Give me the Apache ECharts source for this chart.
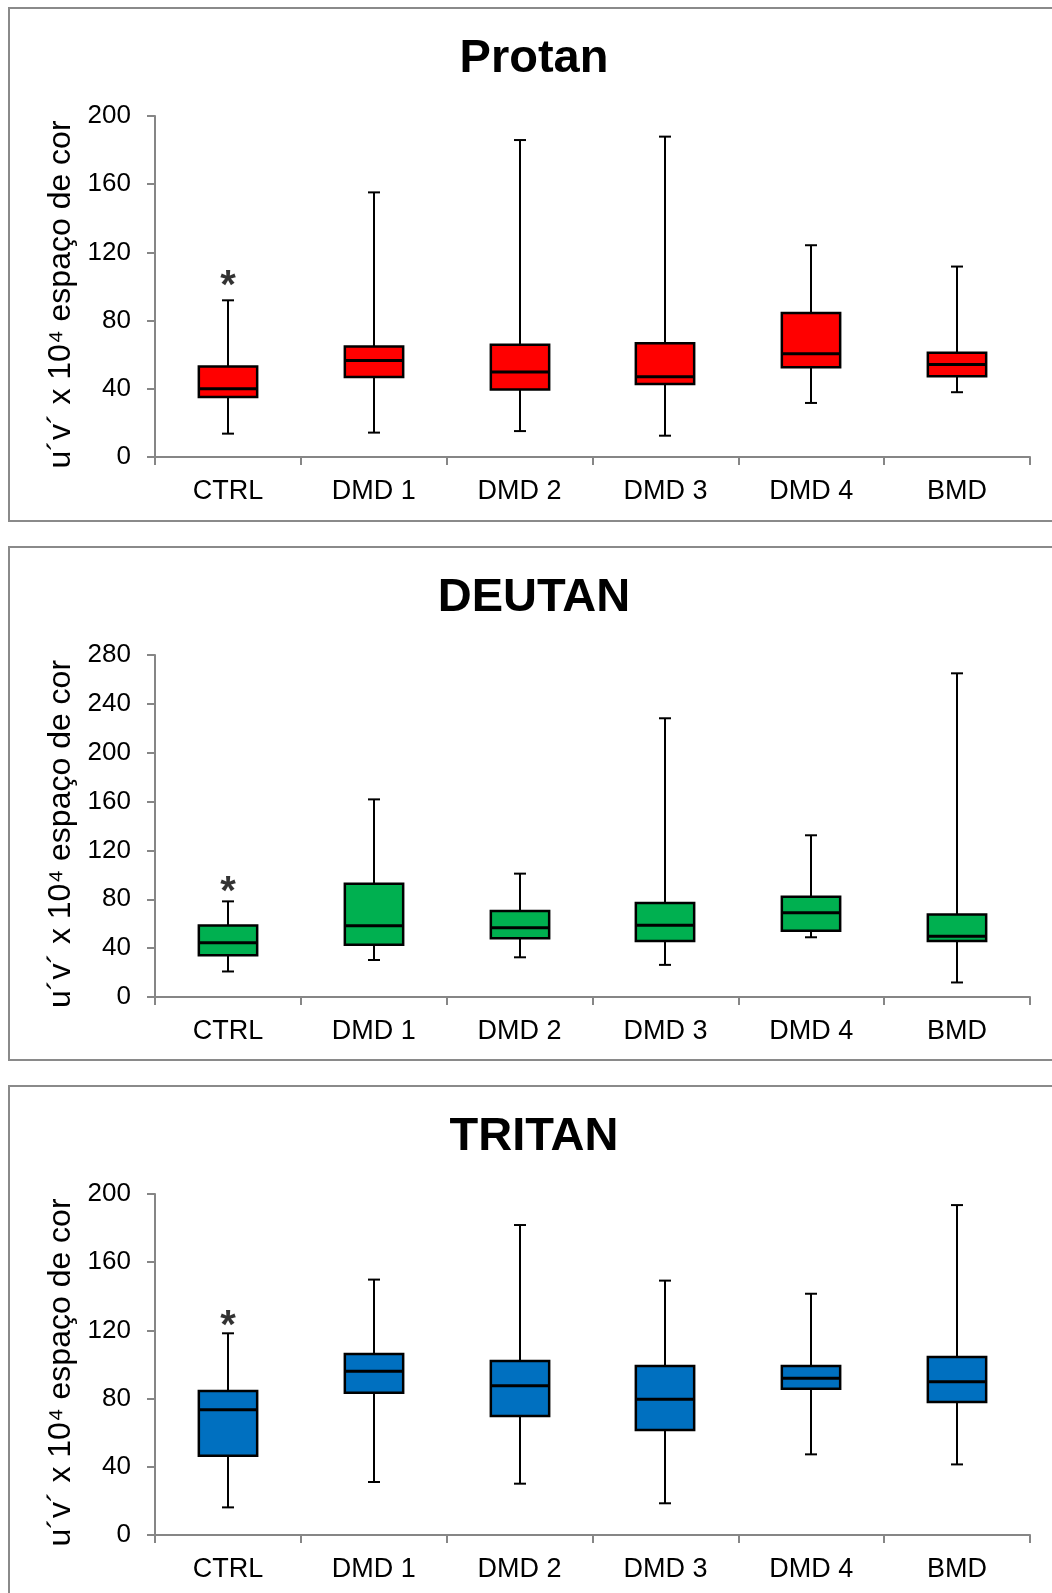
<!DOCTYPE html>
<html>
<head>
<meta charset="utf-8">
<script src="https://cdn.jsdelivr.net/npm/echarts@6/dist/echarts.min.js"></script>
<style>
  html, body { margin: 0; padding: 0; background: #fff; }
  #chart { width: 1052px; height: 1593px; }
</style>
</head>
<body>
<div id="chart"></div>
<script>
// ---------- data ----------
const categories = ['CTRL', 'DMD 1', 'DMD 2', 'DMD 3', 'DMD 4', 'BMD'];
const panelTitles = ['Protan', 'DEUTAN', 'TRITAN'];
const yAxisName = 'u´v´ x 10⁴ espaço de cor';
const yMaxes = [200, 280, 200];
const yInterval = 40;

// Protan
const protanMin = [13.7, 14.3, 15.2, 12.5, 31.7, 38.0];
const protanQ1  = [35.2, 46.9, 39.6, 42.8, 52.7, 47.3];
const protanMed = [40.0, 56.6, 49.9, 47.1, 60.6, 54.3];
const protanQ3  = [53.1, 64.8, 65.9, 66.7, 84.4, 61.2];
const protanMax = [91.9, 155.2, 185.9, 187.9, 124.2, 111.7];

// Deutan
const deutanMin = [20.9, 30.3, 32.5, 26.3, 48.9, 11.9];
const deutanQ1  = [34.2, 42.7, 48.1, 45.8, 54.3, 45.8];
const deutanMed = [44.4, 58.3, 56.6, 58.8, 69.0, 49.8];
const deutanQ3  = [58.5, 92.8, 70.4, 76.9, 82.0, 67.6];
const deutanMax = [78.3, 161.8, 101.0, 228.2, 132.4, 265.0];

// Tritan
const tritanMin = [16.2, 31.1, 30.1, 18.6, 47.3, 41.4];
const tritanQ1  = [46.5, 83.5, 69.8, 61.6, 85.8, 78.0];
const tritanMed = [73.5, 96.0, 87.6, 79.6, 91.9, 89.9];
const tritanQ3  = [84.5, 106.2, 102.0, 99.1, 99.1, 104.4];
const tritanMax = [118.3, 149.8, 181.8, 149.2, 141.5, 193.5];

// significance marks (category, value)
const starCategory = ['CTRL', 'CTRL', 'CTRL'];
const starValues = [104.8, 92.9, 127.0];

// ---------- styles / layout ----------
const FONT = "'Liberation Sans', Arial, sans-serif";
const boxColors = ['#FF0000', '#00B050', '#0070C0'];
const axisGray = '#868686';
const frameTops = [8, 547, 1086];
const gridTops = [116, 655, 1194];
const gridHeights = [341, 342, 341];

const panels = [
  [protanMin, protanQ1, protanMed, protanQ3, protanMax],
  [deutanMin, deutanQ1, deutanMed, deutanQ3, deutanMax],
  [tritanMin, tritanQ1, tritanMed, tritanQ3, tritanMax]
];

function boxRender(color) {
  return function (params, api) {
    const idx = api.value(0);
    const pMin = api.coord([idx, api.value(1)]);
    const pQ1 = api.coord([idx, api.value(2)]);
    const pMed = api.coord([idx, api.value(3)]);
    const pQ3 = api.coord([idx, api.value(4)]);
    const pMax = api.coord([idx, api.value(5)]);
    const cx = Math.round(pMed[0]);
    const bw = api.size([1, 0])[0] * 0.4;
    const cap = 6;
    const lineStyle = { stroke: '#000', lineWidth: 2 };
    return {
      type: 'group',
      children: [
        { type: 'line', shape: { x1: cx, y1: pMax[1], x2: cx, y2: pMin[1] }, style: lineStyle },
        { type: 'line', shape: { x1: cx - cap, y1: pMax[1], x2: cx + cap, y2: pMax[1] }, style: lineStyle },
        { type: 'line', shape: { x1: cx - cap, y1: pMin[1], x2: cx + cap, y2: pMin[1] }, style: lineStyle },
        { type: 'rect', shape: { x: cx - bw / 2, y: pQ3[1], width: bw, height: pQ1[1] - pQ3[1] },
          style: { fill: color, stroke: '#000', lineWidth: 2.5 } },
        { type: 'line', shape: { x1: cx - bw / 2, y1: pMed[1], x2: cx + bw / 2, y2: pMed[1] },
          style: { stroke: '#000', lineWidth: 3 } }
      ]
    };
  };
}

const option = {
  backgroundColor: '#ffffff',
  animation: false,
  title: panelTitles.map((t, i) => ({
    text: t,
    left: 529,
    textAlign: 'center',
    top: gridTops[i] - 85,
    textStyle: { fontFamily: FONT, fontSize: 47, fontWeight: 'bold', color: '#000' }
  })),
  graphic: frameTops.map(t => ({
    type: 'rect',
    silent: true,
    z: -1,
    shape: { x: 9, y: t, width: 1100, height: 513 },
    style: { fill: 'none', stroke: '#8a8a8a', lineWidth: 2 }
  })),
  grid: gridTops.map((t, i) => ({ left: 155, width: 875, top: t, height: gridHeights[i] })),
  xAxis: gridTops.map((t, i) => ({
    type: 'category',
    gridIndex: i,
    data: categories,
    boundaryGap: true,
    axisLine: { lineStyle: { color: axisGray, width: 2 } },
    axisTick: { show: true, length: 8, lineStyle: { color: axisGray, width: 2 } },
    axisLabel: { fontFamily: FONT, fontSize: 27, color: '#000', margin: 21 },
    splitLine: { show: false }
  })),
  yAxis: yMaxes.map((m, i) => ({
    type: 'value',
    gridIndex: i,
    min: 0,
    max: m,
    interval: yInterval,
    name: yAxisName,
    nameLocation: 'middle',
    nameRotate: 90,
    nameGap: 75,
    nameTextStyle: { fontFamily: FONT, fontSize: 32, color: '#000', padding: [0, 16, 0, 0] },
    axisLine: { show: true, lineStyle: { color: axisGray, width: 2 } },
    axisTick: { show: true, length: 8, lineStyle: { color: axisGray, width: 2 } },
    axisLabel: { fontFamily: FONT, fontSize: 26, color: '#000', margin: 24 },
    splitLine: { show: false }
  })),
  series: []
};

panels.forEach((p, i) => {
  const data = categories.map((c, k) => [k, p[0][k], p[1][k], p[2][k], p[3][k], p[4][k]]);
  option.series.push({
    type: 'custom',
    xAxisIndex: i,
    yAxisIndex: i,
    renderItem: boxRender(boxColors[i]),
    encode: { x: 0, y: [1, 2, 3, 4, 5] },
    data: data
  });
  option.series.push({
    type: 'scatter',
    xAxisIndex: i,
    yAxisIndex: i,
    symbol: 'circle',
    symbolSize: 2,
    z: 5,
    itemStyle: { color: 'rgba(0,0,0,0)' },
    label: {
      show: true,
      position: 'inside',
      formatter: '*',
      fontFamily: FONT,
      fontSize: 40,
      fontWeight: 'bold',
      color: '#000',
      offset: [0, 9]
    },
    data: [[starCategory[i], starValues[i]]]
  });
});

const chart = echarts.init(document.getElementById('chart'), null, { renderer: 'canvas' });
chart.setOption(option);
</script>
</body>
</html>
